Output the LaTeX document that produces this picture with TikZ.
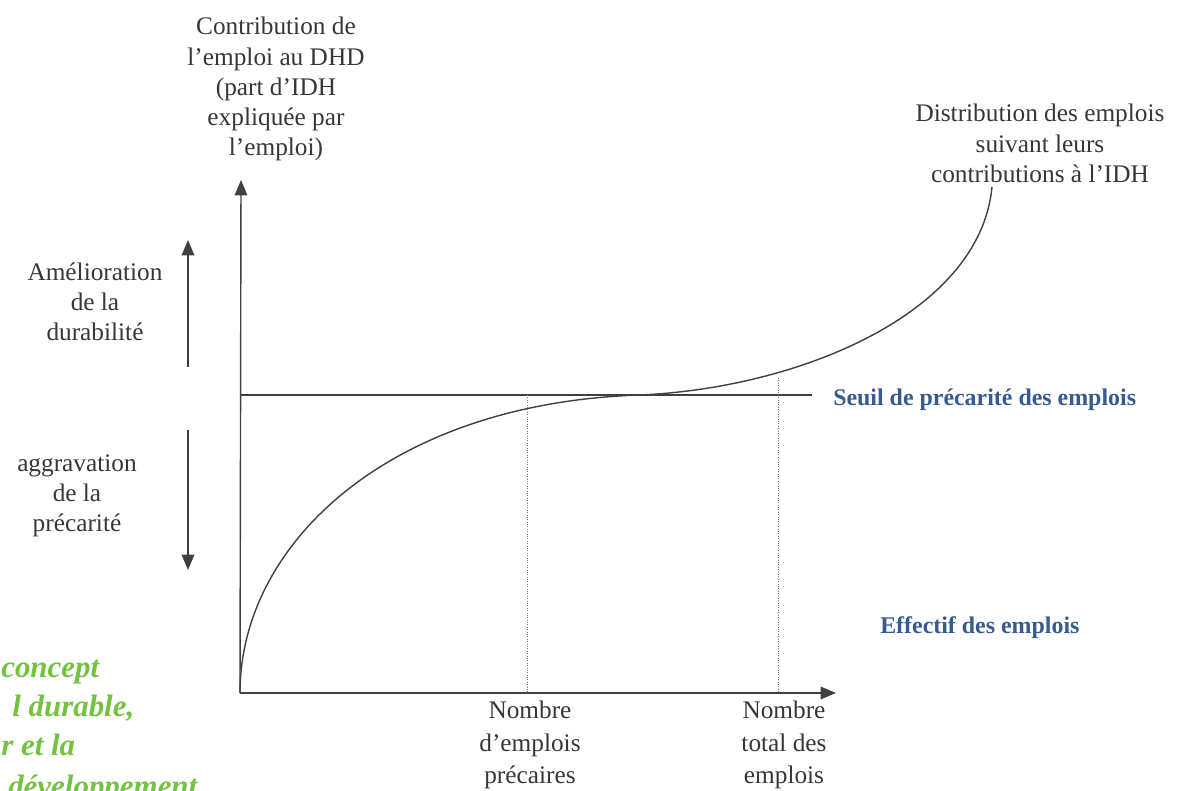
\documentclass[tikz,border=0pt]{standalone}
\usepackage{fontspec}
\setmainfont{Liberation Serif}
\usetikzlibrary{arrows.meta, positioning}
\definecolor{seuilBlue}{RGB}{55,90,145}
\definecolor{pageGreen}{RGB}{115,195,65}
\definecolor{inkGray}{RGB}{55,55,55}

\begin{document}
\begin{tikzpicture}[
    x=0.025cm, y=0.025cm,
    axe/.style={draw=black!75, line width=1pt, -{Triangle[length=11pt,width=9pt]}},
    repere/.style={draw=black!55, line width=0.7pt, densely dotted},
    txt/.style={align=center, text=inkGray, font=\fontsize{18}{21.5}\selectfont, inner sep=0pt},
    txtbas/.style={txt, anchor=north, font=\fontsize{18}{23}\selectfont},
    bleu/.style={text=seuilBlue, font=\fontsize{17}{20}\selectfont\bfseries, inner sep=0pt, anchor=west},
    vert/.style={text=pageGreen, font=\fontsize{22}{26}\selectfont\bfseries\itshape, inner sep=0pt, anchor=base west}
]
\useasboundingbox (-240,-97) rectangle (944,693);

% axes
\coordinate (O) at (0,0);
\coordinate (ytop) at (1,513);
\coordinate (xend) at (596,0);
\draw[axe] (O) -- (ytop);
\draw[axe] (O) -- (xend);

% seuil de precarite
\coordinate (s0) at (0,298);
\coordinate (s1) at (572,298);
\draw[black!75, line width=0.9pt] (s0) -- (s1);

% courbe de distribution
\coordinate (c1) at (400,298);
\coordinate (cend) at (752,506);
\draw[black!75, line width=1pt] (O) .. controls (0,150) and (150,290) .. (c1)
    .. controls (560,305) and (740,380) .. (cend);

% reperes verticaux
\coordinate (pa) at (287,298);
\coordinate (pa0) at (287,0);
\coordinate (pb) at (538,315);
\coordinate (pb0) at (538,0);
\draw[repere] (pa) -- (pa0);
\draw[repere] (pb) -- (pb0);

% fleches a gauche
\coordinate (up0) at (-52,326);
\coordinate (up1) at (-52,453);
\coordinate (dn0) at (-52,263);
\coordinate (dn1) at (-52,123);
\draw[axe] (up0) -- (up1);
\draw[axe] (dn0) -- (dn1);

% textes
\node[txt, anchor=north] (ylab) at (36,676) {Contribution de\\l'emploi au DHD\\(part d'IDH\\expliquée par\\l'emploi)};
\node[txt, anchor=north] (distlab) at (800,589) {Distribution des emplois\\suivant leurs\\contributions à l'IDH};
\node[txt] (amel) at (-145,391) {Amélioration\\de la\\durabilité};
\node[txt] (aggr) at (-163,197) {aggravation\\de la\\précarité};
\node[txtbas] (nbprec) at (290,-8) {Nombre\\d'emplois\\précaires};
\node[txtbas] (nbtot) at (544,-8) {Nombre\\total des\\emplois};
\node[bleu] (seuil) at (593,293) {Seuil de précarité des emplois};
\node[bleu] (effectif) at (640,65) {Effectif des emplois};

% page voisine
\node[vert] (g1) at (-239,16) {concept};
\node[vert] (g2) at (-228,-23) {l durable,};
\node[vert] (g3) at (-239,-62) {r et la};
\begin{scope}
    \clip (-240,-97) rectangle (0,0);
    \node[vert] (g4) at (-232,-103) {développement};
\end{scope}
\end{tikzpicture}
\end{document}
